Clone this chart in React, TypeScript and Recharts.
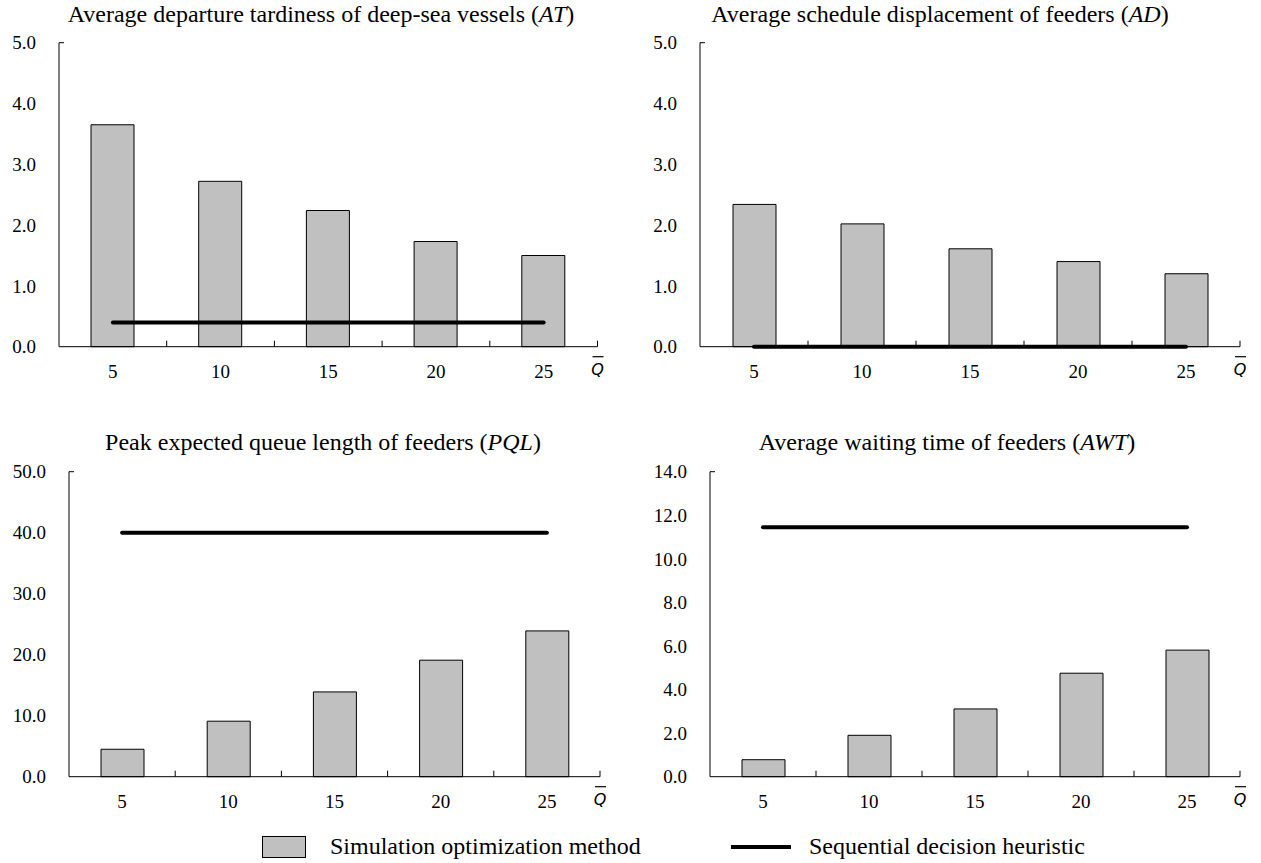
import React from "react";
import { ComposedChart, Bar, Line, XAxis, YAxis } from "recharts";

// Q-bar levels on the x axis
const qLevels = ["5", "10", "15", "20", "25"];

// Average departure tardiness of deep-sea vessels (AT)
const atSimulation = [3.65, 2.72, 2.24, 1.73, 1.5];
const atSequential = [0.4, 0.4, 0.4, 0.4, 0.4];

// Average schedule displacement of feeders (AD)
const adSimulation = [2.34, 2.02, 1.61, 1.4, 1.2];
const adSequential = [0, 0, 0, 0, 0];

// Peak expected queue length of feeders (PQL)
const pqlSimulation = [4.5, 9.1, 13.9, 19.1, 23.9];
const pqlSequential = [40, 40, 40, 40, 40];

// Average waiting time of feeders (AWT)
const awtSimulation = [0.78, 1.9, 3.11, 4.75, 5.81];
const awtSequential = [11.45, 11.45, 11.45, 11.45, 11.45];

const smallTicks = [0, 1, 2, 3, 4, 5];
const pqlTicks = [0, 10, 20, 30, 40, 50];
const awtTicks = [0, 2, 4, 6, 8, 10, 12, 14];

const FONT = "Liberation Serif, DejaVu Serif, serif";
const BAR_FILL = "#c0c0c0";

function toRows(sim: number[], seq: number[]) {
  return qLevels.map((q, i) => ({ q, sim: sim[i], seq: seq[i] }));
}

type Panel = {
  title: string;
  abbr: string;
  sim: number[];
  seq: number[];
  ticks: number[];
  // page coordinates of the chart box and plot area
  left: number;
  top: number;
  width: number;
  height: number;
  plotLeft: number;
  plotRight: number;
  plotTop: number;
  plotBottom: number;
  titleX: number;
  titleY: number;
};

const panels: Panel[] = [
  {
    title: "Average departure tardiness of deep-sea vessels",
    abbr: "AT",
    sim: atSimulation,
    seq: atSequential,
    ticks: smallTicks,
    left: 0, top: 0, width: 630, height: 410,
    plotLeft: 59, plotRight: 597.5, plotTop: 42.7, plotBottom: 346.7,
    titleX: 321, titleY: 2,
  },
  {
    title: "Average schedule displacement of feeders",
    abbr: "AD",
    sim: adSimulation,
    seq: adSequential,
    ticks: smallTicks,
    left: 630, top: 0, width: 631, height: 410,
    plotLeft: 700, plotRight: 1240, plotTop: 42.7, plotBottom: 346.7,
    titleX: 940, titleY: 2,
  },
  {
    title: "Peak expected queue length of feeders",
    abbr: "PQL",
    sim: pqlSimulation,
    seq: pqlSequential,
    ticks: pqlTicks,
    left: 0, top: 410, width: 630, height: 420,
    plotLeft: 69, plotRight: 600, plotTop: 471.7, plotBottom: 776.7,
    titleX: 323, titleY: 430,
  },
  {
    title: "Average waiting time of feeders",
    abbr: "AWT",
    sim: awtSimulation,
    seq: awtSequential,
    ticks: awtTicks,
    left: 630, top: 410, width: 631, height: 420,
    plotLeft: 710, plotRight: 1240, plotTop: 471.7, plotBottom: 776.7,
    titleX: 947, titleY: 430,
  },
];

function makeXTick(halfBand: number) {
  return function XTick(props: any) {
    const { x, y, payload, index } = props;
    const half = payload && payload.offset ? payload.offset : halfBand;
    const last = index === qLevels.length - 1;
    return (
      <g>
        <line x1={x + half} x2={x + half} y1={y} y2={y - 6} stroke="#000" strokeWidth={1} />
        <text x={x} y={y + 31} textAnchor="middle" fontFamily={FONT} fontSize={19} fill="#000">
          {payload.value}
        </text>
        {last && (
          <g>
            <line x1={x + half - 5} x2={x + half + 6} y1={y + 10} y2={y + 10} stroke="#000" strokeWidth={1.2} />
            <text
              x={x + half}
              y={y + 28}
              textAnchor="middle"
              fontFamily="DejaVu Sans, sans-serif"
              fontStyle="italic"
              fontSize={16}
              fill="#000"
            >
              Q
            </text>
          </g>
        )}
      </g>
    );
  };
}

function makeYTick(max: number) {
  return function YTick(props: any) {
    const { x, y, payload } = props;
    return (
      <g>
        {payload.value === max && (
          <line x1={x} x2={x + 5} y1={y} y2={y} stroke="#000" strokeWidth={1} />
        )}
        <text x={x - 23} y={y} dy="0.355em" textAnchor="end" fontFamily={FONT} fontSize={19} fill="#000">
          {Number(payload.value).toFixed(1)}
        </text>
      </g>
    );
  };
}

function ChartPanel({ p }: { p: Panel }) {
  const xAxisHeight = 30;
  const margin = {
    top: p.plotTop - p.top,
    right: p.left + p.width - p.plotRight,
    bottom: p.top + p.height - p.plotBottom - xAxisHeight,
    left: 0,
  };
  const yWidth = p.plotLeft - p.left;
  const halfBand = (p.plotRight - p.plotLeft) / qLevels.length / 2;
  const max = p.ticks[p.ticks.length - 1];
  return (
    <div style={{ position: "absolute", left: p.left, top: p.top, width: p.width, height: p.height }}>
      <ComposedChart width={p.width} height={p.height} data={toRows(p.sim, p.seq)} margin={margin}>
        <XAxis
          dataKey="q"
          height={xAxisHeight}
          axisLine={{ stroke: "#000", strokeWidth: 1 }}
          tickLine={false}
          tickSize={0}
          tickMargin={0}
          interval={0}
          tick={makeXTick(halfBand)}
        />
        <YAxis
          width={yWidth}
          domain={[0, max]}
          ticks={p.ticks}
          interval={0}
          axisLine={{ stroke: "#000", strokeWidth: 1 }}
          tickLine={false}
          tickSize={0}
          tickMargin={0}
          tick={makeYTick(max)}
        />
        <Bar dataKey="sim" barSize={43} fill={BAR_FILL} stroke="#000" strokeWidth={1} isAnimationActive={false} />
        <Line
          type="linear"
          dataKey="seq"
          stroke="#000"
          strokeWidth={4}
          strokeLinecap="round"
          dot={false}
          activeDot={false}
          isAnimationActive={false}
        />
      </ComposedChart>
      <div
        style={{
          position: "absolute",
          left: p.titleX - p.left,
          top: p.titleY - p.top,
          transform: "translateX(-50%)",
          whiteSpace: "nowrap",
          fontFamily: FONT,
          fontSize: 24,
          lineHeight: "24px",
          color: "#000",
        }}
      >
        {p.title} (<i>{p.abbr}</i>)
      </div>
    </div>
  );
}

export default function App() {
  return (
    <div
      style={{
        position: "absolute",
        left: 0,
        top: 0,
        width: 1261,
        height: 863,
        background: "#fff",
        fontFamily: FONT,
        overflow: "hidden",
      }}
    >
      {panels.map((p) => (
        <ChartPanel key={p.abbr} p={p} />
      ))}
      {/* legend */}
      <div
        style={{
          position: "absolute",
          left: 262,
          top: 836,
          width: 42,
          height: 20,
          background: BAR_FILL,
          border: "1px solid #000",
        }}
      />
      <div style={{ position: "absolute", left: 330, top: 834, fontSize: 24, lineHeight: "24px", whiteSpace: "nowrap" }}>
        Simulation optimization method
      </div>
      <div style={{ position: "absolute", left: 731, top: 845, width: 60, height: 4, background: "#000" }} />
      <div style={{ position: "absolute", left: 809, top: 834, fontSize: 24, lineHeight: "24px", whiteSpace: "nowrap" }}>
        Sequential decision heuristic
      </div>
    </div>
  );
}
